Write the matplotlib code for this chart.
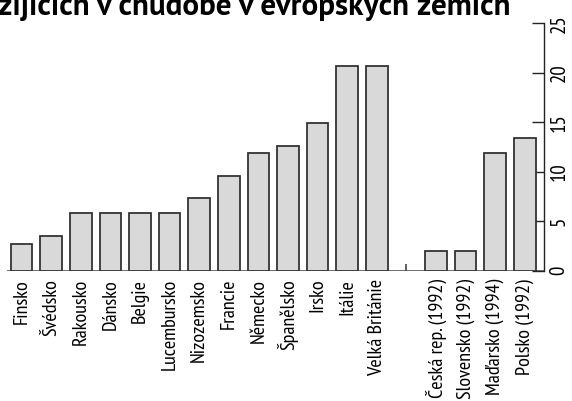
import numpy as np
import matplotlib
matplotlib.use("Agg")
import matplotlib.pyplot as plt

countries = ["Finsko", "Švédsko", "Rakousko", "Dánsko", "Belgie", "Lucembursko",
             "Nizozemsko", "Francie", "Německo", "Španělsko", "Irsko", "Itálie",
             "Velká Británie", "", "Česká rep. (1992)", "Slovensko (1992)",
             "Maďarsko (1994)", "Polsko (1992)"]
values = [2.7, 3.5, 5.8, 5.8, 5.8, 5.8, 7.3, 9.6, 11.9, 12.6, 14.9, 20.7,
          20.7, 0, 2.0, 2.0, 11.9, 13.4]
separator_height = 0.7
y_ticks = [0, 5, 10, 15, 20, 25]
title = "žijících v chudobě v evropských zemích"

label_font = ["PT Sans Narrow", "DejaVu Sans"]

fig = plt.figure(figsize=(5.72, 4.01), dpi=100)
ax = fig.add_axes([0.0128, 0.3254, 0.9382, 0.6165])

x = np.arange(len(countries))
real = np.array([c != "" for c in countries])
ax.bar(x[real], np.array(values)[real], width=0.73, color="#d9d9d9",
       edgecolor="#333333", linewidth=1.3, zorder=3)
# small mark in the gap between the two groups
ax.vlines(x[~real], 0, separator_height, color="#444444", linewidth=1.2, zorder=3)
ax.axhline(0, color="#555555", linewidth=1.2, zorder=2)

ax.set_xlim(-0.48, 17.65)
ax.set_ylim(0, 25)

for side in ["top", "left", "bottom"]:
    ax.spines[side].set_visible(False)
ax.spines["right"].set_color("#222222")
ax.spines["right"].set_linewidth(1.0)

ax.yaxis.tick_right()
ax.set_yticks(y_ticks)
ax.set_yticklabels([str(t) for t in y_ticks], rotation=90, va="center",
                   family=label_font, fontsize=15)
ax.tick_params(axis="y", direction="in", length=9, width=1.0, pad=4, colors="#222222")
ax.tick_params(axis="y", labelcolor="black")

ax.set_xticks(x)
ax.set_xticklabels(countries, rotation=90, ha="center", va="top",
                   family=label_font, fontsize=14.5)
ax.tick_params(axis="x", length=0, pad=6)

fig.text(-0.004, 1 - 15 / 401, title, ha="left", va="baseline",
         family=["PT Sans", "DejaVu Sans"], fontweight="bold", fontsize=22.4)

fig.savefig("out.png", dpi=100)
